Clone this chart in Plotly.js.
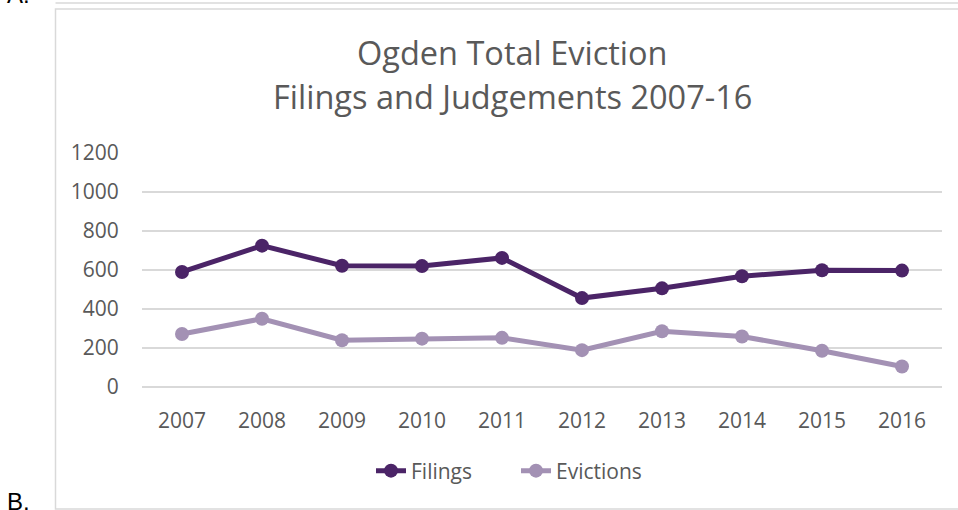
<!DOCTYPE html>
<html>
<head>
<meta charset="utf-8">
<script src="https://cdn.plot.ly/plotly-3.0.1.min.js"></script>
<style>html,body{margin:0;padding:0;background:#fff;}#chart{width:958px;height:510px;}</style>
</head>
<body>
<div id="chart"></div>
<script>
const years = ["2007","2008","2009","2010","2011","2012","2013","2014","2015","2016"];
const filings = [590, 725, 622, 620, 662, 456, 506, 568, 599, 597];
const evictions = [272, 350, 240, 248, 252, 189, 286, 259, 186, 105];
const yTicks = [0, 200, 400, 600, 800, 1000, 1200];

const filingsColor = "#4b2467";
const evictionsColor = "#a391b4";
const textColor = "#595959";
const gridColor = "#d9d9d9";

const traces = [
  {x: years, y: filings, name: "Filings", type: "scatter", mode: "lines+markers",
   line: {color: filingsColor, width: 5}, marker: {color: filingsColor, size: 14}},
  {x: years, y: evictions, name: "Evictions", type: "scatter", mode: "lines+markers",
   line: {color: evictionsColor, width: 5}, marker: {color: evictionsColor, size: 14}}
];

// plot area: x 142..942, y 153..387 px
const px = v => (v - 142) / 800;
const py = v => (387 - v) / 234;

const layout = {
  width: 958, height: 510,
  margin: {l: 142, r: 16, t: 153, b: 123, pad: 0},
  paper_bgcolor: "#fff", plot_bgcolor: "#fff",
  showlegend: true,
  font: {family: "Open Sans, sans-serif", color: textColor, size: 21},
  xaxis: {type: "category", range: [-0.5, 9.5], showgrid: false, zeroline: false,
          showline: false, ticks: "outside", ticklen: 15, tickcolor: "rgba(0,0,0,0)",
          tickfont: {size: 21, color: textColor}, fixedrange: true},
  yaxis: {range: [0, 1200], tickvals: yTicks, ticktext: yTicks.map(String),
          showgrid: true, gridcolor: gridColor, gridwidth: 1.5, zeroline: true,
          zerolinecolor: gridColor, zerolinewidth: 1.5, showline: false,
          ticks: "outside", ticklen: 18, tickcolor: "rgba(0,0,0,0)",
          tickfont: {size: 21, color: textColor}, fixedrange: true},
  legend: {orientation: "h", x: px(516), xanchor: "center", y: py(471), yanchor: "middle",
           font: {size: 21, color: textColor}, bgcolor: "rgba(0,0,0,0)", traceorder: "normal",
           entrywidth: 100, entrywidthmode: "pixels"},
  shapes: [
    {type: "rect", xref: "paper", yref: "paper", x0: px(55.5), x1: px(990), y0: py(509), y1: py(9),
     line: {color: gridColor, width: 1.5}, fillcolor: "rgba(0,0,0,0)", layer: "below"},
    {type: "line", xref: "paper", yref: "paper", x0: px(55.5), x1: px(990), y0: py(3), y1: py(3),
     line: {color: gridColor, width: 1.5}, layer: "below"}
  ],
  annotations: [
    {text: "Ogden Total Eviction", xref: "paper", yref: "paper", x: px(512), y: py(53),
     xanchor: "center", yanchor: "middle", showarrow: false, font: {size: 32.5, color: textColor}},
    {text: "Filings and Judgements 2007-16", xref: "paper", yref: "paper", x: px(512), y: py(96),
     xanchor: "center", yanchor: "middle", showarrow: false, font: {size: 32.5, color: textColor}},
    {text: "A.", xref: "paper", yref: "paper", x: px(5), y: py(10), xanchor: "left", yanchor: "bottom",
     showarrow: false, font: {family: "Liberation Sans, Arial, sans-serif", size: 24, color: "#000"}},
    {text: "B.", xref: "paper", yref: "paper", x: px(5), y: py(517), xanchor: "left", yanchor: "bottom",
     showarrow: false, font: {family: "Liberation Sans, Arial, sans-serif", size: 24, color: "#000"}}
  ]
};

Plotly.newPlot("chart", traces, layout, {displayModeBar: false, staticPlot: true});
</script>
</body>
</html>
